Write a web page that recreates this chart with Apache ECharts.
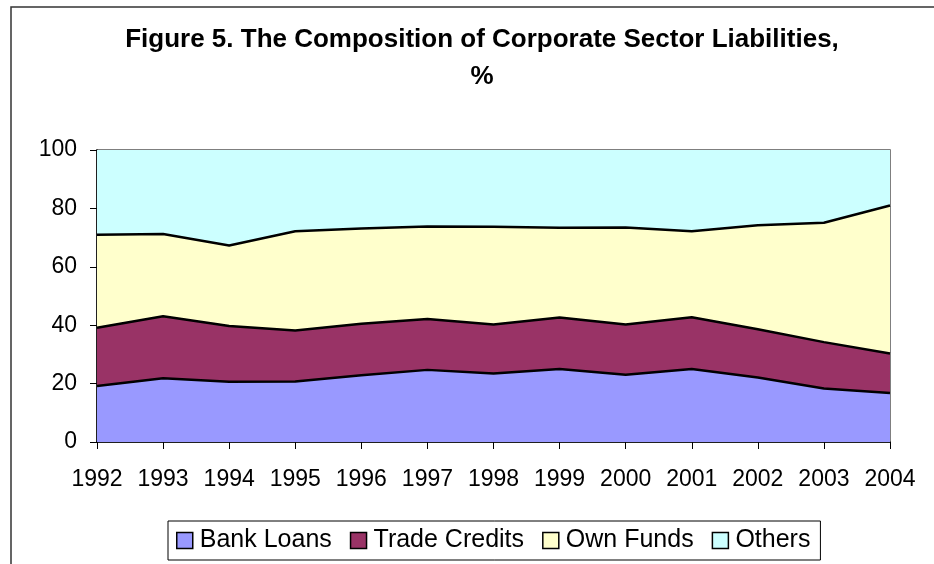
<!DOCTYPE html>
<html>
<head>
<meta charset="utf-8">
<script src="https://cdn.jsdelivr.net/npm/echarts@6/dist/echarts.min.js"></script>
<style>
  html, body { margin: 0; padding: 0; background: #fff; }
  #main { width: 934px; height: 564px; }
</style>
</head>
<body>
<div id="main"></div>
<script>
// composition of corporate sector liabilities, % (stacked to 100)
const years = ['1992', '1993', '1994', '1995', '1996', '1997', '1998', '1999', '2000', '2001', '2002', '2003', '2004'];
const bankLoans    = [19.2, 21.8, 20.6, 20.7, 22.9, 24.7, 23.5, 25.0, 23.0, 25.0, 22.1, 18.3, 16.8];
const tradeCredits = [19.9, 21.3, 19.1, 17.5, 17.6, 17.4, 16.7, 17.6, 17.2, 17.7, 16.5, 15.9, 13.5];
const ownFunds     = [31.9, 28.1, 27.6, 34.0, 32.6, 31.7, 33.5, 30.8, 33.3, 29.5, 35.6, 40.9, 50.7];
const others       = [29.0, 28.8, 32.7, 27.8, 26.9, 26.2, 26.3, 26.6, 26.5, 27.8, 25.8, 24.9, 19.0];

const font = 'Liberation Sans, Arial, sans-serif';

const chart = echarts.init(document.getElementById('main'), null, { renderer: 'canvas' });

const mkSeries = (name, data, color, z, lineW) => ({
  name,
  type: 'line',
  stack: 'total',
  data,
  z,
  symbol: 'none',
  itemStyle: { color },
  lineStyle: { color: '#000', width: lineW },
  areaStyle: { color, opacity: 1 },
  emphasis: { disabled: true }
});

const option = {
  backgroundColor: '#fff',
  animation: false,
  title: {
    text: 'Figure 5. The Composition of Corporate Sector Liabilities,\n%',
    left: 477,
    top: 16,
    textAlign: 'center',
    textStyle: { fontFamily: font, fontSize: 26, fontWeight: 'bold', color: '#000', lineHeight: 37 }
  },
  legend: {
    left: 168,
    top: 521,
    icon: 'rect',
    itemWidth: 16,
    itemHeight: 16,
    itemGap: 18,
    padding: [7, 10, 7, 8],
    borderColor: '#000',
    borderWidth: 1,
    itemStyle: { borderColor: '#000', borderWidth: 1.5 },
    textStyle: { fontFamily: font, fontSize: 25, color: '#000', padding: [0, 0, 0, 2] },
    data: ['Bank Loans', 'Trade Credits', 'Own Funds', 'Others']
  },
  grid: {
    left: 97, right: 44, top: 150, bottom: 122,
    show: true,
    borderColor: '#555',
    borderWidth: 1.5
  },
  xAxis: {
    type: 'category',
    data: years,
    boundaryGap: false,
    axisLine: { lineStyle: { color: '#000', width: 1.5 } },
    axisTick: { length: 7, interval: 0, lineStyle: { color: '#000' } },
    axisLabel: { fontFamily: font, fontSize: 23, color: '#000', margin: 26, interval: 0, hideOverlap: false },
    splitLine: { show: false }
  },
  yAxis: {
    type: 'value',
    min: 0,
    max: 100,
    interval: 20,
    axisLine: { show: true, lineStyle: { color: '#000', width: 1.5 } },
    axisTick: { show: true, length: 7, lineStyle: { color: '#000' } },
    axisLabel: { fontFamily: font, fontSize: 23, color: '#000', margin: 20 },
    splitLine: { show: false }
  },
  graphic: [{
    type: 'rect',
    shape: { x: 11, y: 7, width: 1000, height: 1000 },
    style: { fill: 'none', stroke: '#333', lineWidth: 1.5 },
    silent: true,
    z: -1
  }],
  series: [
    mkSeries('Bank Loans', bankLoans, '#9999FF', 5, 2.5),
    mkSeries('Trade Credits', tradeCredits, '#993366', 4, 2.5),
    mkSeries('Own Funds', ownFunds, '#FFFFCC', 3, 2.5),
    mkSeries('Others', others, '#CCFFFF', 2, 0)
  ]
};

chart.setOption(option);
</script>
</body>
</html>
